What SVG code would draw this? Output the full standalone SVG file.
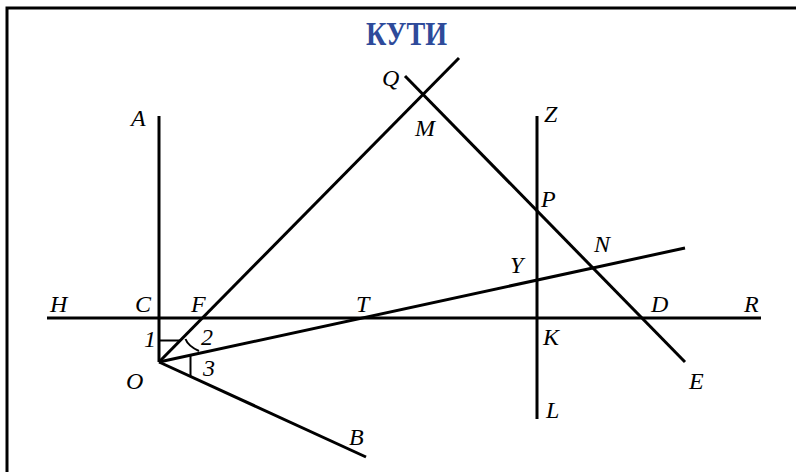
<svg xmlns="http://www.w3.org/2000/svg" width="796" height="472" viewBox="0 0 796 472">
<style>
.ln{stroke:#000;stroke-width:3;fill:none;stroke-linecap:butt}
.th{stroke:#000;stroke-width:2;fill:none}
.lb{font-family:"Liberation Serif",serif;font-style:italic;font-size:24px;fill:#000}
.tt{font-family:"Liberation Serif",serif;font-weight:bold;font-size:33px;fill:#2e4a9a}
</style>
<rect x="0" y="0" width="796" height="472" fill="#fff"/>
<rect x="7" y="8" width="800" height="480" fill="none" stroke="#000" stroke-width="3"/>
<text class="tt" x="366" y="45" textLength="81" lengthAdjust="spacingAndGlyphs">КУТИ</text>
<g id="connectors">
<line class="ln" x1="47" y1="318" x2="761" y2="318"/>
<line class="ln" x1="159" y1="116" x2="159" y2="362"/>
<line class="ln" x1="159" y1="362" x2="459" y2="58"/>
<line class="ln" x1="159" y1="362" x2="685" y2="248"/>
<line class="ln" x1="159" y1="362" x2="366" y2="457"/>
<line class="ln" x1="405" y1="76" x2="685" y2="362"/>
<line class="ln" x1="537" y1="116" x2="537" y2="419"/>
<line class="th" x1="159" y1="340.5" x2="181" y2="340.5"/>
<path class="th" d="M185.5,339 Q188,346 199,351"/>
<line class="th" x1="190.5" y1="356" x2="190.5" y2="376"/>
</g>
<g id="labels">
<text class="lb" x="50" y="312">H</text>
<text class="lb" x="135" y="312">C</text>
<text class="lb" x="191" y="312">F</text>
<text class="lb" x="356" y="312">T</text>
<text class="lb" x="651" y="312">D</text>
<text class="lb" x="744" y="312">R</text>
<text class="lb" x="131" y="126">A</text>
<text class="lb" x="544" y="122">Z</text>
<text class="lb" x="382" y="86">Q</text>
<text class="lb" x="415" y="136">M</text>
<text class="lb" x="541" y="207">P</text>
<text class="lb" x="594" y="252">N</text>
<text class="lb" x="510" y="273">Y</text>
<text class="lb" x="543" y="345">K</text>
<text class="lb" x="144" y="347">1</text>
<text class="lb" x="201" y="345">2</text>
<text class="lb" x="203" y="376">3</text>
<text class="lb" x="126" y="389">O</text>
<text class="lb" x="689" y="389">E</text>
<text class="lb" x="546" y="418">L</text>
<text class="lb" x="349" y="445">B</text>
</g>
</svg>
